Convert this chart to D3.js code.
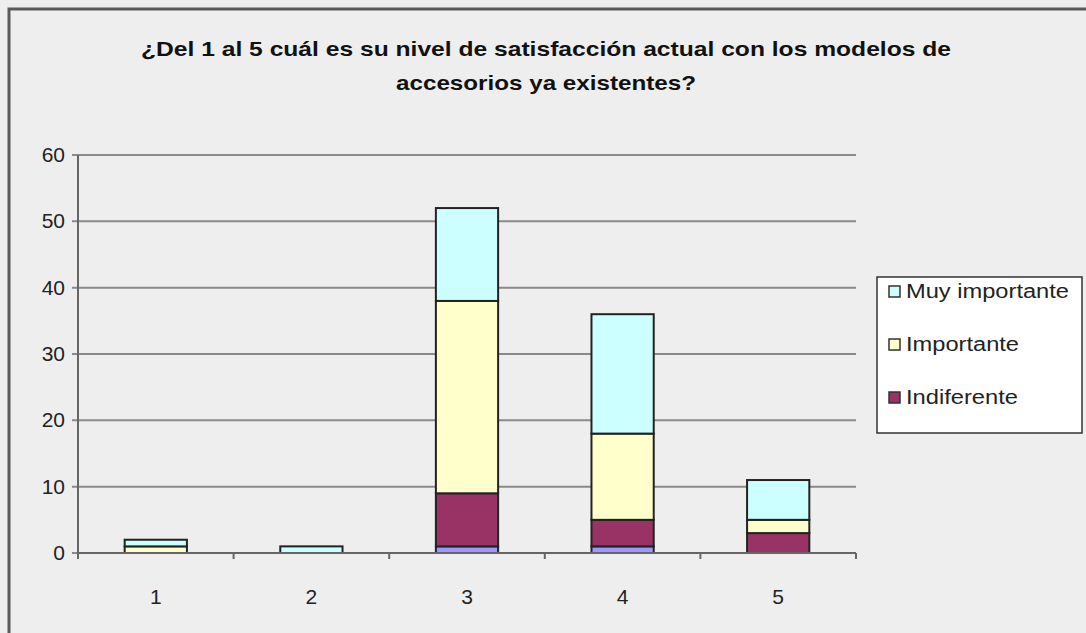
<!DOCTYPE html>
<html><head><meta charset="utf-8">
<script src="https://cdn.jsdelivr.net/npm/d3@7"></script>
<style>body{margin:0;background:#fff;}svg{display:block;}</style>
</head><body>
<script>
const categories = ["1","2","3","4","5"];
const seriesNames = ["Sin nombre","Indiferente","Importante","Muy importante"];
const baseVals = [0,0,1,1,0];
const indiferente = [0,0,8,4,3];
const importante = [1,0,29,13,2];
const muyImportante = [1,1,14,18,6];
const yTicks = [0,10,20,30,40,50,60];
const legendNames = ["Muy importante","Importante","Indiferente"];
const colors = {"Sin nombre":"#9999FF","Indiferente":"#993366","Importante":"#FFFFCC","Muy importante":"#CCFFFF"};
const titleLines = ["¿Del 1 al 5 cuál es su nivel de satisfacción actual con los modelos de","accesorios ya existentes?"];

const W=1086,H=633;
const svg=d3.select("body").append("svg").attr("width",W).attr("height",H);
svg.append("rect").attr("width",W).attr("height",H).attr("fill","#EEEEEE");
svg.append("path").attr("d",`M9,${H} V9 H${W}`).attr("fill","none").attr("stroke","#5a5a5a").attr("stroke-width",3);

const font="Liberation Sans, Arial, sans-serif";
const tl=[[546,56,810],[546,90,300]];
titleLines.forEach((t,i)=>{
  svg.append("text").attr("x",tl[i][0]).attr("y",tl[i][1]).attr("text-anchor","middle")
    .attr("font-family",font).attr("font-weight","bold").attr("font-size",21).attr("fill","#111")
    .attr("textLength",tl[i][2]).attr("lengthAdjust","spacingAndGlyphs").text(t);
});

const x0=78,x1=856,yTop=155,yBot=553;
const x=d3.scaleBand().domain(categories).range([x0,x1]).paddingInner(0.6).paddingOuter(0.3);
const xb=d3.scaleBand().domain(categories).range([x0,x1]);
const y=d3.scaleLinear().domain([0,60]).range([yBot,yTop]);

const g=svg.append("g");
g.selectAll(".grid").data(yTicks).join("line").attr("x1",x0-6).attr("x2",x1)
  .attr("y1",d=>y(d)).attr("y2",d=>y(d)).attr("stroke","#8a8a8a").attr("stroke-width",2);
g.selectAll(".yl").data(yTicks).join("text").attr("x",x0-13).attr("y",d=>y(d)+7)
  .attr("text-anchor","end").attr("font-family",font).attr("font-size",21).attr("fill","#222").text(d=>d);

const data=categories.map((c,i)=>({cat:c,"Sin nombre":baseVals[i],"Indiferente":indiferente[i],"Importante":importante[i],"Muy importante":muyImportante[i]}));
const stack=d3.stack().keys(seriesNames)(data);
stack.forEach(s=>{
  g.selectAll(null).data(s.filter(d=>d[1]-d[0]>0)).join("rect")
    .attr("x",d=>x(d.data.cat)).attr("width",x.bandwidth())
    .attr("y",d=>y(d[1])).attr("height",d=>y(d[0])-y(d[1]))
    .attr("fill",colors[s.key]).attr("stroke","#222").attr("stroke-width",2);
});

g.append("line").attr("x1",x0).attr("x2",x0).attr("y1",yTop).attr("y2",yBot+6).attr("stroke","#666").attr("stroke-width",2);
g.append("line").attr("x1",x0).attr("x2",x1).attr("y1",yBot).attr("y2",yBot).attr("stroke","#666").attr("stroke-width",2);
const xt=categories.map(c=>xb(c)).concat([x1]);
g.selectAll(".xt").data(xt).join("line").attr("x1",d=>d).attr("x2",d=>d).attr("y1",yBot).attr("y2",yBot+6).attr("stroke","#666").attr("stroke-width",2);
g.selectAll(".xl").data(categories).join("text").attr("x",d=>xb(d)+xb.bandwidth()/2).attr("y",yBot+51)
  .attr("text-anchor","middle").attr("font-family",font).attr("font-size",21).attr("fill","#222").text(d=>d);

const legendLen=[163,113,112];
const lg=svg.append("g");
lg.append("rect").attr("x",877).attr("y",277).attr("width",205).attr("height",156).attr("fill","#fff").attr("stroke","#333").attr("stroke-width",1.5);
legendNames.forEach((n,i)=>{
  const yy=291+i*53;
  lg.append("rect").attr("x",889).attr("y",yy-5).attr("width",11).attr("height",11).attr("fill",colors[n]).attr("stroke","#333").attr("stroke-width",1.5);
  lg.append("text").attr("x",906).attr("y",yy+7).attr("font-family",font).attr("font-size",20).attr("fill","#222")
    .attr("textLength",legendLen[i]).attr("lengthAdjust","spacingAndGlyphs").text(n);
});
</script>
</body></html>
